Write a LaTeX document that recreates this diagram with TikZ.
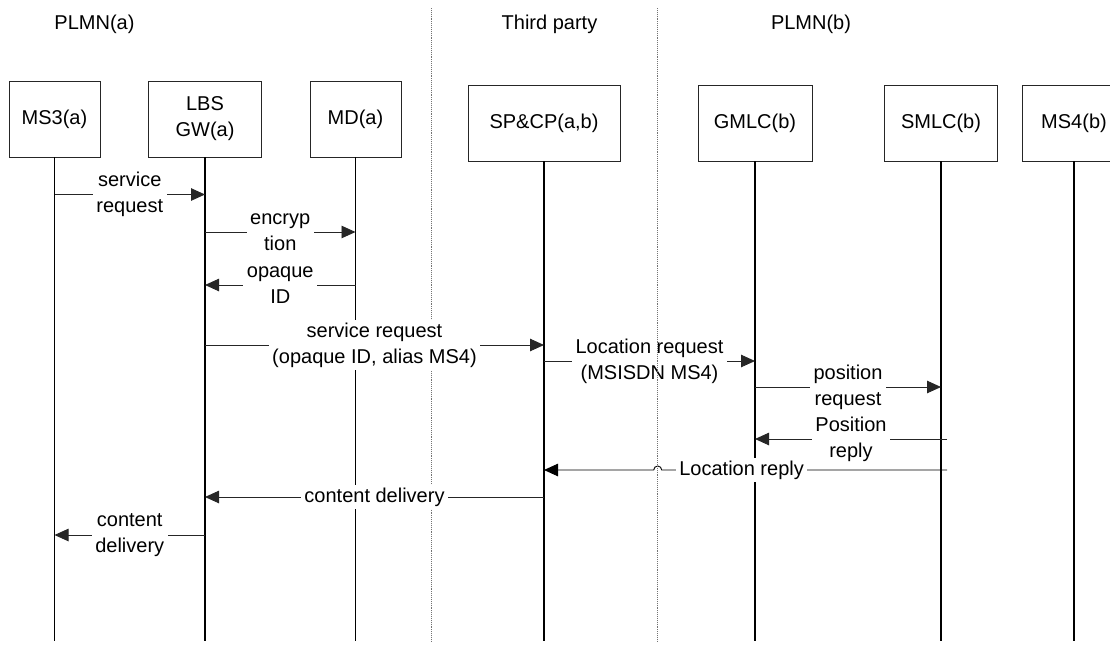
\documentclass[tikz,border=0pt]{standalone}
\usepackage{fontspec}
\setmainfont{Liberation Sans}
\usetikzlibrary{arrows.meta,calc}
\begin{document}
\begin{tikzpicture}[x=1pt,y=-1pt,
  every node/.style={font=\fontsize{20}{26}\selectfont},
  actor/.style={draw=black!85, line width=0.8pt, minimum height=76pt, align=center, inner sep=0pt},
  life/.style={line width=1.4pt},
  divider/.style={draw=black!55, line width=0.9pt, densely dotted},
  msg/.style={draw=black!85, line width=0.9pt, -{Triangle[length=14pt,width=12.5pt]}},
  lbl/.style={fill=white, inner xsep=3.5pt, inner ysep=3pt, align=center}]
\useasboundingbox (0,0) rectangle (1110,645);
% domain titles
\node (tA) at (94.5,24) {PLMN(a)};
\node (tT) at (549.5,24) {Third party};
\node (tB) at (811,24) {PLMN(b)};
% actors
\node[actor, minimum width=91pt]  (ms3)  at (54.5,119) {MS3(a)};
\node[actor, minimum width=113pt] (lbs)  at (205,119)  {LBS\\GW(a)};
\node[actor, minimum width=91pt]  (md)   at (355.5,119) {MD(a)};
\node[actor, minimum width=152pt] (sp)   at (544,123)  {SP\&CP(a,b)};
\node[actor, minimum width=114pt] (gmlc) at (755,123)  {GMLC(b)};
\node[actor, minimum width=113pt] (smlc) at (941,123)  {SMLC(b)};
\node[actor, minimum width=104pt] (ms4)  at (1074,123) {MS4(b)};
% helper coordinates
\coordinate (d1top) at (431.7,8);
\coordinate (d1bot) at (431.7,641);
\coordinate (d2top) at (657.7,8);
\coordinate (d2bot) at (657.7,641);
\coordinate (bot) at (0,641);
\coordinate (y1) at (0,194.5);
\coordinate (y2) at (0,232);
\coordinate (y3) at (0,285);
\coordinate (y4) at (0,345);
\coordinate (y5) at (0,361);
\coordinate (y6) at (0,387);
\coordinate (y7) at (0,439);
\coordinate (y8) at (0,470);
\coordinate (y9) at (0,497);
\coordinate (y10) at (0,535);
% divider 1
\draw[divider] (d1top) -- (d1bot);
% lifelines
\foreach \n in {ms3,lbs,md,sp,gmlc,smlc,ms4}
  \draw[life] (\n.south) -- (\n |- bot);
% messages
\draw[msg] (ms3 |- y1) -- node[lbl] (l1) {service\\request} (lbs |- y1);
\draw[msg] (lbs |- y2) -- node[lbl] (l2) {encryp\\tion} (md |- y2);
\draw[msg] (md |- y3) -- node[lbl] (l3) {opaque\\ID} (lbs |- y3);
\draw[msg] (lbs |- y4) -- node[lbl] (l4) {service request\\(opaque ID, alias MS4)} (sp |- y4);
\draw[msg] (sp |- y5) -- node[lbl] (l5) {Location request\\(MSISDN MS4)} (gmlc |- y5);
\draw[msg] (gmlc |- y6) -- node[lbl] (l6) {position\\request} (smlc |- y6);
\coordinate (pr0) at ($(smlc |- y7)+(6,0)$);
\draw[msg] (pr0) -- node[lbl] (l7) {Position\\reply} (gmlc |- y7);
\coordinate (lr0) at ($(smlc |- y8)+(6,0)$);
\coordinate (hop) at ($(d2top |- y8)+(4,0)$);
\draw[msg, draw=black] (lr0) -- node[lbl, pos=0.72] (l8) {Location reply} (hop)
  arc[start angle=0, end angle=180, radius=4pt] -- (sp |- y8);
\draw[msg] (sp |- y9) -- node[lbl] (l9) {content delivery} (lbs |- y9);
\draw[msg] (lbs |- y10) -- node[lbl] (l10) {content\\delivery} (ms3 |- y10);
% divider 2 (drawn on top)
\draw[divider] (d2top) -- (d2bot);
\end{tikzpicture}
\end{document}
